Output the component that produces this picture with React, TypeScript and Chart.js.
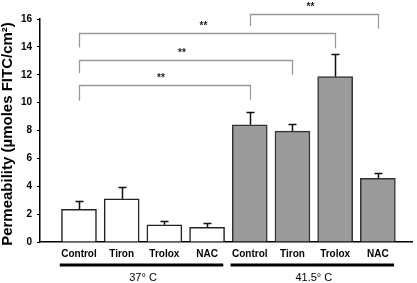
import React, { useEffect, useRef } from "react";
import { Chart, registerables } from "chart.js";

Chart.register(...registerables);

const categories = ["Control", "Tiron", "Trolox", "NAC", "Control", "Tiron", "Trolox", "NAC"];
const means37 = [2.35, 3.1, 1.24, 1.05];
const sem37 = [0.57, 0.82, 0.24, 0.31];
const means415 = [8.41, 7.96, 11.86, 4.57];
const sem415 = [0.89, 0.48, 1.64, 0.38];
const yTicks = [0, 2, 4, 6, 8, 10, 12, 14, 16];
const groupLabels = ["37\u00b0 C", "41.5\u00b0 C"];
const groupRanges = [[0, 3], [4, 7]];
// significance brackets: [from index, to index, bar y, left leg end y, right leg end y]
const brackets = [
  [0, 6, 14.97, 13.95, 13.9],
  [0, 5, 13.03, 12.1, 12.0],
  [0, 4, 11.24, 10.14, 10.2],
  [4, 7, 16.36, 15.5, 15.3],
];
const starLabel = "**";

export default function App() {
  const ref = useRef<HTMLCanvasElement>(null);
  useEffect(() => {
    document.body.style.margin = "0";
    const canvas = ref.current!;
    const allMeans = [...means37, ...means415];
    const allSem = [...sem37, ...sem415];
    const data37 = means37.map((v, i) => ({ x: i, y: v }));
    const data415 = means415.map((v, i) => ({ x: i + 4, y: v }));

    const overlay = {
      id: "overlay",
      afterDatasetsDraw(chart: any) {
        const ctx = chart.ctx;
        const xs = chart.scales.x;
        const ys = chart.scales.y;
        ctx.save();
        // error bars
        ctx.strokeStyle = "#111";
        ctx.lineWidth = 1.5;
        allMeans.forEach((m, i) => {
          const x = Math.round(xs.getPixelForValue(i)) + 0.5;
          const y0 = ys.getPixelForValue(m);
          const y1 = Math.round(ys.getPixelForValue(m + allSem[i])) + 0.5;
          ctx.beginPath();
          ctx.moveTo(x, y0);
          ctx.lineTo(x, y1);
          ctx.moveTo(x - 4, y1);
          ctx.lineTo(x + 4, y1);
          ctx.stroke();
        });
        // brackets
        ctx.strokeStyle = "#9a9a9a";
        ctx.lineWidth = 1.3;
        ctx.fillStyle = "#222";
        ctx.font = "bold 10px Arial, 'Liberation Sans', sans-serif";
        ctx.textAlign = "center";
        ctx.textBaseline = "middle";
        brackets.forEach(([a, b, yb, yl, yr]) => {
          const xa = Math.round(xs.getPixelForValue(a)) + 0.5;
          const xb = Math.round(xs.getPixelForValue(b)) + 0.5;
          const py = Math.round(ys.getPixelForValue(yb)) + 0.5;
          ctx.beginPath();
          ctx.moveTo(xa, ys.getPixelForValue(yl));
          ctx.lineTo(xa, py);
          ctx.lineTo(xb, py);
          ctx.lineTo(xb, ys.getPixelForValue(yr));
          ctx.stroke();
          ctx.fillText(starLabel, (xa + xb) / 2 - 4, py - 7);
        });
        // group underlines and labels
        const bottom = chart.chartArea.bottom;
        ctx.strokeStyle = "#000";
        ctx.lineWidth = 3;
        ctx.fillStyle = "#000";
        ctx.font = "11px Arial, 'Liberation Sans', sans-serif";
        groupRanges.forEach(([s, e], gi) => {
          const x1 = xs.getPixelForValue(s - 0.45);
          const x2 = xs.getPixelForValue(e + 0.38);
          ctx.beginPath();
          ctx.moveTo(x1, bottom + 23);
          ctx.lineTo(x2, bottom + 23);
          ctx.stroke();
          ctx.fillText(groupLabels[gi], xs.getPixelForValue((s + e) / 2), bottom + 36);
        });
        // y title
        ctx.save();
        ctx.translate(12, (chart.chartArea.top + bottom) / 2 + 3.5);
        ctx.rotate(-Math.PI / 2);
        ctx.textBaseline = "alphabetic";
        ctx.font = "bold 15px Arial, 'Liberation Sans', sans-serif";
        ctx.fillText("Permeability (\u00b5moles FITC/cm\u00b2)", 0, 0);
        ctx.restore();
        ctx.restore();
      },
    };

    const chart = new Chart(canvas, {
      type: "bar",
      data: {
        datasets: [
          {
            data: data37 as any,
            backgroundColor: "#ffffff",
            borderColor: "#222",
            borderWidth: 1.5,
            barThickness: 35,
          },
          {
            data: data415 as any,
            backgroundColor: "#9b9b9b",
            borderColor: "#333",
            borderWidth: 1.5,
            barThickness: 35,
          },
        ],
      },
      options: {
        animation: false,
        responsive: false,
        maintainAspectRatio: false,
        layout: { padding: { top: 19, right: 5, left: 0, bottom: 0 } },
        plugins: { legend: { display: false }, tooltip: { enabled: false } },
        datasets: { bar: { grouped: false } } as any,
        scales: {
          x: {
            type: "linear",
            offset: false,
            min: -0.913,
            max: 7.8,
            afterFit(scale: any) {
              scale.height = 41;
            },
            afterBuildTicks(scale: any) {
              scale.ticks = categories.map((_, i) => ({ value: i }));
            },
            ticks: {
              autoSkip: false,
              maxRotation: 0,
              padding: 6,
              color: "#000",
              font: { family: "Arial, 'Liberation Sans', sans-serif", size: 10, weight: "bold" },
              callback: (v: any) => categories[v as number] ?? "",
            },
            grid: { display: false, drawTicks: false },
            border: { display: true, color: "#000", width: 1.5 },
          },
          y: {
            min: 0,
            max: 16,
            afterFit(scale: any) {
              scale.width = 40;
            },
            afterBuildTicks(scale: any) {
              scale.ticks = yTicks.map((v) => ({ value: v }));
            },
            ticks: {
              padding: 5,
              color: "#000",
              font: { family: "Arial, 'Liberation Sans', sans-serif", size: 10, weight: "bold" },
            },
            grid: { display: true, drawOnChartArea: false, drawTicks: true, tickLength: 3, color: "#000", lineWidth: 1 },
            border: { display: true, color: "#000", width: 1.5 },
          },
        },
      } as any,
      plugins: [overlay],
    });
    return () => chart.destroy();
  }, []);
  return (
    <div style={{ width: 417, height: 283 }}>
      <canvas ref={ref} width={417} height={283} style={{ display: "block" }} />
    </div>
  );
}
